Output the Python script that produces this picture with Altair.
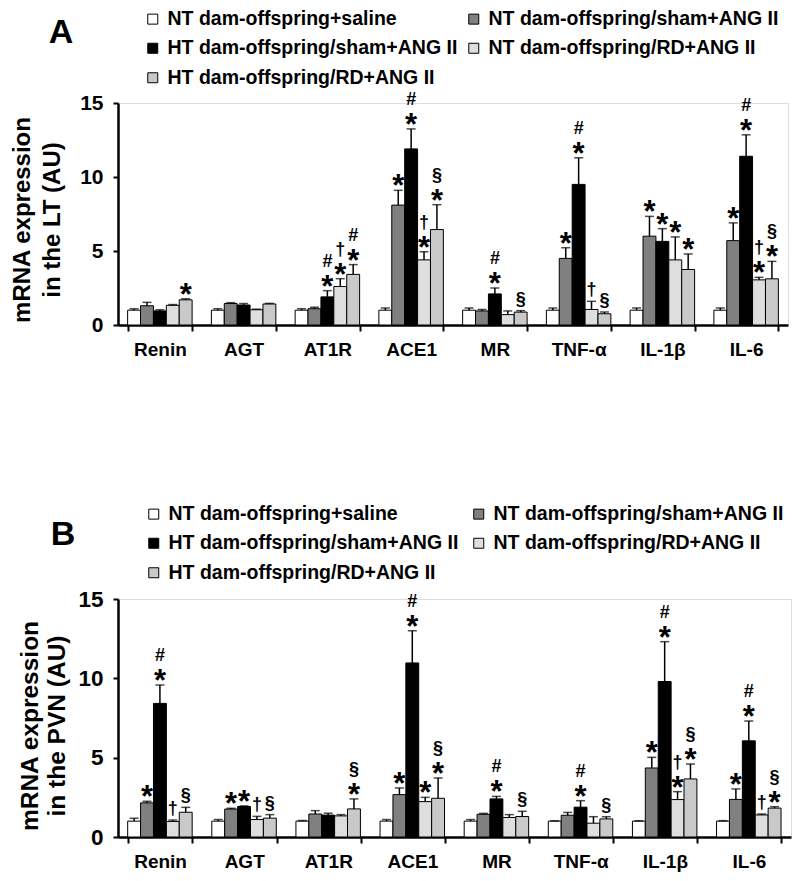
import altair as alt
import pandas as pd

FONT = "Liberation Sans"

categories = ["Renin", "AGT", "AT1R", "ACE1", "MR", "TNF-α", "IL-1β", "IL-6"]
groups = [
    "NT dam-offspring+saline",
    "NT dam-offspring/sham+ANG II",
    "HT dam-offspring/sham+ANG II",
    "NT dam-offspring/RD+ANG II",
    "HT dam-offspring/RD+ANG II",
]
group_colors = ["#ffffff", "#808080", "#000000", "#dedede", "#c9c9c9"]

# ---- Panel A: LT ----
lt_saline = [1.0, 1.0, 1.0, 1.0, 1.0, 1.0, 1.0, 1.0]
lt_saline_err = [0.1, 0.1, 0.1, 0.15, 0.15, 0.15, 0.15, 0.15]
lt_nt_sham = [1.3, 1.45, 1.1, 8.1, 0.95, 4.5, 6.0, 5.7]
lt_nt_sham_err = [0.23, 0.06, 0.1, 1.0, 0.1, 0.72, 1.34, 1.2]
lt_ht_sham = [0.95, 1.35, 1.9, 11.9, 2.1, 9.5, 5.65, 11.4]
lt_ht_sham_err = [0.08, 0.1, 0.42, 1.35, 0.4, 1.8, 0.86, 1.45]
lt_nt_rd = [1.33, 1.03, 2.6, 4.4, 0.7, 1.05, 4.4, 3.05]
lt_nt_rd_err = [0.05, 0.04, 0.53, 0.55, 0.25, 0.55, 1.55, 0.17]
lt_ht_rd = [1.7, 1.42, 3.42, 6.45, 0.87, 0.76, 3.75, 3.12]
lt_ht_rd_err = [0.07, 0.04, 0.66, 1.68, 0.1, 0.12, 1.05, 1.18]

lt_saline_sig = ["", "", "", "", "", "", "", ""]
lt_nt_sham_sig = ["", "", "", "*", "", "*", "*", "*"]
lt_ht_sham_sig = ["", "", "*#", "*#", "*#", "*#", "*", "*#"]
lt_nt_rd_sig = ["", "", "*†", "*†", "", "†", "*", "*†"]
lt_ht_rd_sig = ["*", "", "*#", "*§", "§", "§", "*", "*§"]

# ---- Panel B: PVN ----
pvn_saline = [1.0, 1.0, 1.0, 1.0, 1.0, 1.0, 1.0, 1.0]
pvn_saline_err = [0.18, 0.1, 0.04, 0.1, 0.1, 0.02, 0.02, 0.03]
pvn_nt_sham = [2.15, 1.76, 1.45, 2.67, 1.43, 1.37, 4.35, 2.37]
pvn_nt_sham_err = [0.1, 0.05, 0.21, 0.42, 0.06, 0.18, 0.67, 0.66]
pvn_ht_sham = [8.42, 1.92, 1.38, 10.97, 2.4, 1.88, 9.8, 6.06]
pvn_ht_sham_err = [1.16, 0.04, 0.12, 2.03, 0.16, 0.41, 2.51, 1.25]
pvn_nt_rd = [0.98, 1.1, 1.33, 2.23, 1.23, 0.87, 2.36, 1.39]
pvn_nt_rd_err = [0.09, 0.2, 0.08, 0.27, 0.18, 0.41, 0.5, 0.06]
pvn_ht_rd = [1.56, 1.19, 1.77, 2.44, 1.29, 1.14, 3.66, 1.82]
pvn_ht_rd_err = [0.31, 0.22, 0.63, 1.28, 0.33, 0.14, 0.94, 0.09]

pvn_saline_sig = ["", "", "", "", "", "", "", ""]
pvn_nt_sham_sig = ["*", "*", "", "*", "", "", "*", "*"]
pvn_ht_sham_sig = ["*#", "*", "", "*#", "*#", "*#", "*#", "*#"]
pvn_nt_rd_sig = ["†", "†", "", "*", "", "", "*†", "†"]
pvn_ht_rd_sig = ["§", "§", "*§", "*§", "§", "§", "*§", "*§"]

y_ticks = [0, 5, 10, 15]


def build(means, errs, sigs):
    rows, mrows = [], []
    for g, ms, es, ss in zip(groups, means, errs, sigs):
        for c, m, e, s in zip(categories, ms, es, ss):
            rows.append(dict(cat=c, group=g, mean=m, top=m + e))
            for lvl, ch in enumerate(s):
                mrows.append(dict(cat=c, group=g, top=m + e, sym=ch, level=lvl))
    return pd.DataFrame(rows), pd.DataFrame(mrows)


def panel(df, mdf, width, height, ytitle, tick_fs, title_fs, title_xs, title_dy,
          letter, letter_xy, legend_xy, colpad, spacer):
    yscale = alt.Scale(domain=[0, 15], nice=False)
    x = alt.X("cat:N", sort=categories,
              scale=alt.Scale(paddingInner=0.23, paddingOuter=0.115),
              axis=alt.Axis(title=None, labelAngle=0, labelFont=FONT, labelFontSize=19,
                            labelFontWeight="bold", labelColor="black", labelPadding=9,
                            tickBand="extent", tickSize=6, tickColor="black", tickWidth=2,
                            domainColor="black", domainWidth=2.5))
    xo = alt.XOffset("group:N", sort=groups, scale=alt.Scale(paddingInner=0, paddingOuter=0))
    yaxis = alt.Axis(values=y_ticks, grid=False, title=None,
                     labelFont=FONT, labelFontSize=tick_fs, labelFontWeight="bold",
                     labelColor="black", labelPadding=10, tickSize=5, tickColor="black",
                     tickWidth=2, domainColor="black", domainWidth=2.5)
    legend = alt.Legend(orient="none", legendX=legend_xy[0], legendY=legend_xy[1],
                        direction="horizontal",
                        columns=2, columnPadding=colpad, rowPadding=8.5, padding=0,
                        title=None, labelFont=FONT, labelFontSize=19.5,
                        labelFontWeight="bold", labelColor="black", labelLimit=600,
                        labelOffset=5, symbolType="square", symbolSize=100,
                        symbolStrokeColor="black", symbolStrokeWidth=1)
    color = alt.Color("group:N", sort=groups,
                      scale=alt.Scale(domain=groups, range=group_colors), legend=legend)

    bars = alt.Chart(df).mark_bar(stroke="black", strokeWidth=1).encode(
        x=x, xOffset=xo, y=alt.Y("mean:Q", scale=yscale, axis=yaxis), color=color)
    err = alt.Chart(df).mark_rule(color="black", strokeWidth=1.5).encode(
        x=x, xOffset=xo, y=alt.Y("mean:Q", scale=yscale), y2="top:Q")
    cap = alt.Chart(df).mark_tick(color="black", thickness=1.5, size=9,
                                  orient="horizontal").encode(
        x=x, xOffset=xo, y=alt.Y("top:Q", scale=yscale))
    ast = alt.Chart(mdf).transform_filter("datum.sym == '*'").mark_text(
        font=FONT, fontSize=31, fontWeight="bold", baseline="middle", dy=-3,
        color="black").encode(x=x, xOffset=xo, y=alt.Y("top:Q", scale=yscale),
                              text="sym:N")
    sym0 = alt.Chart(mdf).transform_filter(
        "datum.level == 0 && datum.sym != '*'").mark_text(
        font=FONT, fontSize=18, fontWeight="bold", baseline="middle", dy=-11,
        color="black").encode(x=x, xOffset=xo, y=alt.Y("top:Q", scale=yscale),
                              text="sym:N")
    sym1 = alt.Chart(mdf).transform_filter("datum.level == 1").mark_text(
        font=FONT, fontSize=18, fontWeight="bold", baseline="middle", dy=-29,
        color="black").encode(x=x, xOffset=xo, y=alt.Y("top:Q", scale=yscale),
                              text="sym:N")
    let = alt.Chart(pd.DataFrame({"t": [letter]})).mark_text(
        font=FONT, fontSize=34, fontWeight="bold", align="center", baseline="middle",
        color="black").encode(x=alt.value(letter_xy[0]), y=alt.value(letter_xy[1]),
                              text="t:N")
    titles = []
    for line, tx in zip(ytitle, title_xs):
        titles.append(alt.Chart(pd.DataFrame({"t": [line]})).mark_text(
            font=FONT, fontSize=title_fs, fontWeight="bold", align="center",
            baseline="alphabetic", angle=270, color="black").encode(
            x=alt.value(tx), y=alt.value(height / 2 + title_dy), text="t:N"))
    sp = alt.Chart(pd.DataFrame({"a": [0]})).mark_rule(
        color="white", strokeOpacity=0).encode(
        x=alt.value(spacer), x2=alt.value(spacer + 2), y=alt.value(height))
    layers = [bars, err, cap, ast, sym0, sym1, let, *titles, sp]
    return alt.layer(*layers).properties(width=width, height=height)


lt_df, lt_m = build(
    [lt_saline, lt_nt_sham, lt_ht_sham, lt_nt_rd, lt_ht_rd],
    [lt_saline_err, lt_nt_sham_err, lt_ht_sham_err, lt_nt_rd_err, lt_ht_rd_err],
    [lt_saline_sig, lt_nt_sham_sig, lt_ht_sham_sig, lt_nt_rd_sig, lt_ht_rd_sig])
pvn_df, pvn_m = build(
    [pvn_saline, pvn_nt_sham, pvn_ht_sham, pvn_nt_rd, pvn_ht_rd],
    [pvn_saline_err, pvn_nt_sham_err, pvn_ht_sham_err, pvn_nt_rd_err, pvn_ht_rd_err],
    [pvn_saline_sig, pvn_nt_sham_sig, pvn_ht_sham_sig, pvn_nt_rd_sig, pvn_ht_rd_sig])

panel_a = panel(lt_df, lt_m, 670, 222, ["mRNA expression", "in the LT (AU)"],
                21, 24, (-88, -58), 6, "A", (-57, -70), (25, -94), 6, -107)
panel_b = panel(pvn_df, pvn_m, 673, 238, ["mRNA expression", "in the PVN (AU)"],
                22.5, 24.5, (-80, -53), 8, "B", (-55, -64), (26, -95), 10, -107)

chart = alt.vconcat(panel_a, panel_b, spacing=143).resolve_legend(
    color="independent").resolve_scale(color="independent", y="independent",
                                       x="independent").properties(
    padding={"left": 2, "top": 0, "right": 0, "bottom": 0}
).configure_view(stroke=None).configure(font=FONT)

chart.save("out.html", embed_options={"renderer": "svg", "actions": False})
